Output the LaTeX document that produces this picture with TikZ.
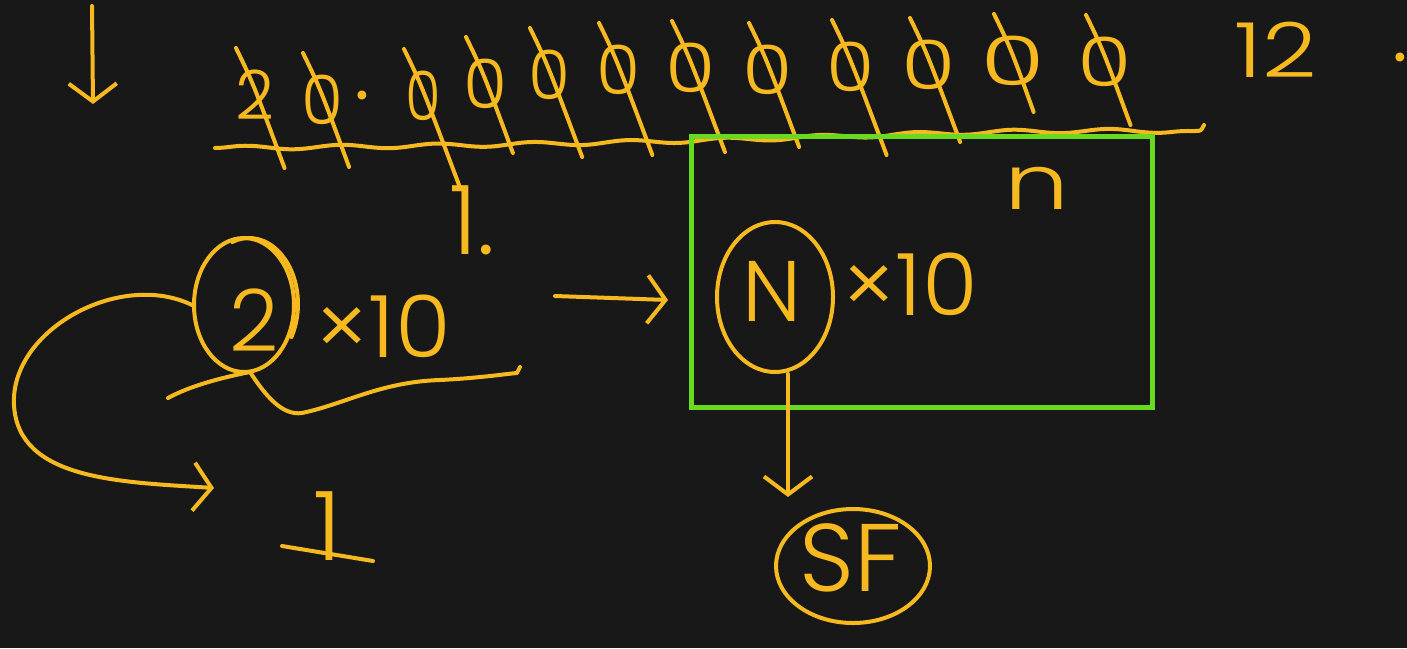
\documentclass[tikz,border=0pt]{standalone}
\usepackage{fontspec}
\newfontfamily\handfont{Poppins}[UprightFont=* Light]
\usetikzlibrary{arrows.meta,decorations.pathmorphing,shapes.geometric,calc}
\definecolor{ink}{RGB}{246,186,32}
\definecolor{board}{RGB}{24,24,24}
\definecolor{frame}{RGB}{104,218,34}
\tikzset{
  pen/.style={draw=ink, line width=2pt, line cap=round, line join=round},
  glyph/.style={text=ink, inner sep=0pt, font=\handfont\fontsize{43}{43}\selectfont},
  bigglyph/.style={glyph, font=\handfont\fontsize{48}{48}\selectfont},
  midglyph/.style={glyph, font=\handfont\fontsize{38}{38}\selectfont},
  rowglyph/.style={glyph, font=\handfont\fontsize{34}{34}\selectfont},
  ring/.style={pen, ellipse, inner sep=0pt},
  barb/.style={-{Straight Barb[length=9pt,width=24pt]}},
}
\begin{document}
\begin{tikzpicture}[x=0.5pt,y=-0.5pt]
\fill[board] (0,0) rectangle (1407,648);
\useasboundingbox (0,0) rectangle (1407,648);

% small pointer arrow, top left
\coordinate (ptrA) at (92,6);
\coordinate (ptrB) at (93,104);
\draw[pen,barb] (ptrA) -- (ptrB);

% the number, digit by digit, each one struck out by a slanted stroke
\foreach \x/\y/\d/\s/\yb [count=\i] in {
    255/95/2/1.0/168, 322/100/0/1.0/167, 423/96/0/0.85/187, 485/84/0/1.05/153,
    549/75/0/1.0/157, 618/70/0/1.05/155, 691/68/0/1.2/152, 768/70/0/1.2/147,
    851/67/0/1.15/155, 929/65/0/1.3/142, 1013/61/0/1.55/112, 1105/62/0/1.3/125} {
  \node[rowglyph, xscale=\s] (d\i) at (\x,\y) {\d};
  \pgfmathsetmacro\bx{19*(\yb-\y)/47}
  \draw[pen] ($(d\i.center)+(-19,-47)$) .. controls ($(d\i.center)+(-2,-12)$) .. ($(d\i.center)+(\bx,\yb-\y)$);
}
\node[glyph] (pt) at (362,96) {.};

% wavy rule under the digits
\draw[pen, decorate, decoration={snake, segment length=48pt, amplitude=1pt, post length=2pt}]
  (215,148) .. controls (450,146) and (650,142) .. (800,137) .. controls (1000,131) .. (1195,131);
\draw[pen] (1195,131) .. controls (1201,131) .. (1204,125);

\node[midglyph, xscale=1.25] (twelve) at (1276,50) {12};
\node[glyph] (enddot) at (1400,58) {.};
\node[bigglyph] (one) at (472,220) {1.};

% 2 x 10, with the 2 ringed
\node[glyph] (two) at (254,320) {2};
\node[glyph, xscale=1.05] (times1) at (383,326) {×10};
\node[ring, minimum width=50pt, minimum height=67pt] (ring2) at (244,305) {};
\draw[pen] (291.4,337) arc[start angle=-30, end angle=110, x radius=24.5pt, y radius=33pt];
\draw[pen] (168,398) .. controls (190,386) and (220,378) .. (250,372)
  .. controls (265,395) and (282,416) .. (302,413)
  .. controls (345,404) and (380,382) .. (440,380)
  .. controls (480,378) and (505,374) .. (517,373) -- (520,367);

% looping arrow down to 1
\coordinate (loopEnd) at (214,488);
\draw[pen,barb] (ring2.west) .. controls (120,270) and (10,330) .. (14,405)
  .. controls (18,480) and (120,482) .. (loopEnd);
\node[bigglyph] (onebelow) at (328,526) {1};
\draw[pen] (282,546) -- (373,561);

% arrow across to the boxed general form
\coordinate (midA) at (555,296);
\coordinate (midB) at (668,300);
\draw[pen,barb] (midA) -- (midB);

\node[draw=frame, line width=2.2pt, inner sep=0pt, minimum width=230.5pt, minimum height=135.5pt] (box) at (922,272) {};

\node[glyph] (N) at (772,291) {N};
\node[ring, minimum width=58pt, minimum height=75pt] (ringN) at (775,297) {};
\node[glyph, xscale=1.05] (times2) at (910,284) {×10};
\node[midglyph, xscale=1.35] (expo) at (1037,188) {n};

% N leads down to SF
\coordinate (sfIn) at (788,497);
\draw[pen,barb] (ringN.south -| sfIn) -- (sfIn);
\node[bigglyph] (sf) at (851,558) {SF};
\node[ring, minimum width=77pt, minimum height=57pt] (ringSF) at (853,566) {};
\end{tikzpicture}
\end{document}
